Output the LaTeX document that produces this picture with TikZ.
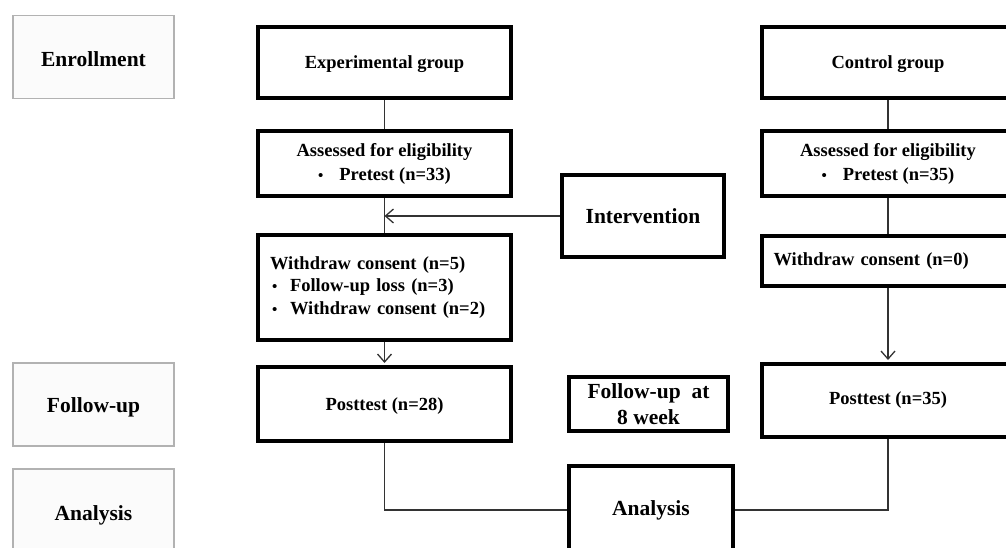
\documentclass[tikz,border=0pt]{standalone}
\usepackage{fontspec}
\setmainfont{Liberation Serif}
\usetikzlibrary{arrows.meta}

\def\boxfont{\fontsize{18.5}{24}\selectfont\bfseries}
\def\labelfont{\fontsize{21.5}{26}\selectfont\bfseries}
\def\punkt{{\fontsize{15}{15}\selectfont\textbullet}}

\tikzset{
	kasten/.style={draw,line width=4pt,fill=white,minimum width=253pt,
		inner sep=0pt,align=center,font=\boxfont},
	etikett/.style={draw=gray!60,line width=1.5pt,fill=gray!3,
		minimum width=161pt,minimum height=83pt,font=\labelfont,text height=20pt},
	linie/.style={draw=black!80,line width=1.3pt},
}

\begin{document}
\begin{tikzpicture}[x=1pt,y=-1pt,>={Straight Barb[length=8pt,width=14pt]}]
\useasboundingbox (0,0) rectangle (1006,548);
% phases
\node[etikett] (enroll) at (93.5,57) {Enrollment};
\node[etikett] (follow) at (93.5,404.5) {Follow-up};
\node[etikett,minimum height=88pt] (analyse) at (93.5,513) {Analysis};
% experimental group
\node[kasten,minimum height=71pt,text height=17pt] (expgrp) at (384.5,62.5) {Experimental group};
\node[kasten,minimum height=65pt] (assE) at (384.5,163.5)
	{Assessed for eligibility\\\punkt\hspace{16pt}Pretest (n=33)};
\node[kasten,minimum height=105pt,text width=229pt,align=left,inner xsep=12pt,
	font=\fontsize{18.5}{22.5}\selectfont\bfseries] (wdE) at (384.5,287.5)
	{Withdraw consent (n=5)\\
	\hspace{2pt}\makebox[18pt][l]{\punkt}Follow-up loss (n=3)\\
	\hspace{2pt}\makebox[18pt][l]{\punkt}Withdraw consent (n=2)};
\node[kasten,minimum height=74pt,text height=17pt] (postE) at (384.5,404) {Posttest (n=28)};
% control group
\node[kasten,minimum height=71pt,text height=17pt] (ctrl) at (888,62.5) {Control group};
\node[kasten,minimum height=65pt] (assC) at (888,163.5)
	{Assessed for eligibility\\\punkt\hspace{16pt}Pretest (n=35)};
\node[kasten,minimum height=50pt,text width=229pt,align=left,inner xsep=12pt] (wdC)
	at (888,261) {Withdraw consent (n=0)};
\node[kasten,minimum height=73pt] (postC) at (888,400.5) {Posttest (n=35)};
% middle column
\node[kasten,minimum width=162pt,minimum height=82pt,font=\labelfont] (interv)
	at (643,216) {Intervention};
\node[kasten,minimum width=159pt,minimum height=54pt,
	font=\fontsize{21.5}{26}\selectfont\bfseries] (fu8) at (648.5,404)
	{Follow-up\ \ at\\8 week};
\node[kasten,minimum width=164pt,minimum height=88pt,font=\labelfont] (anaC)
	at (651,510) {Analysis};
\coordinate (treff) at (interv.west -| assE.south);

\draw[linie] (expgrp) -- (assE);
\draw[linie] (assE) -- (wdE);
\draw[linie,->,shorten >=2pt] (wdE) -- (postE);
\draw[linie,->] (interv.west) -- (treff);
\draw[linie] (postE) |- (anaC);
\draw[linie] (ctrl) -- (assC);
\draw[linie] (assC) -- (wdC);
\draw[linie,->,shorten >=2pt] (wdC) -- (postC);
\draw[linie] (postC) |- (anaC);
\end{tikzpicture}
\end{document}
